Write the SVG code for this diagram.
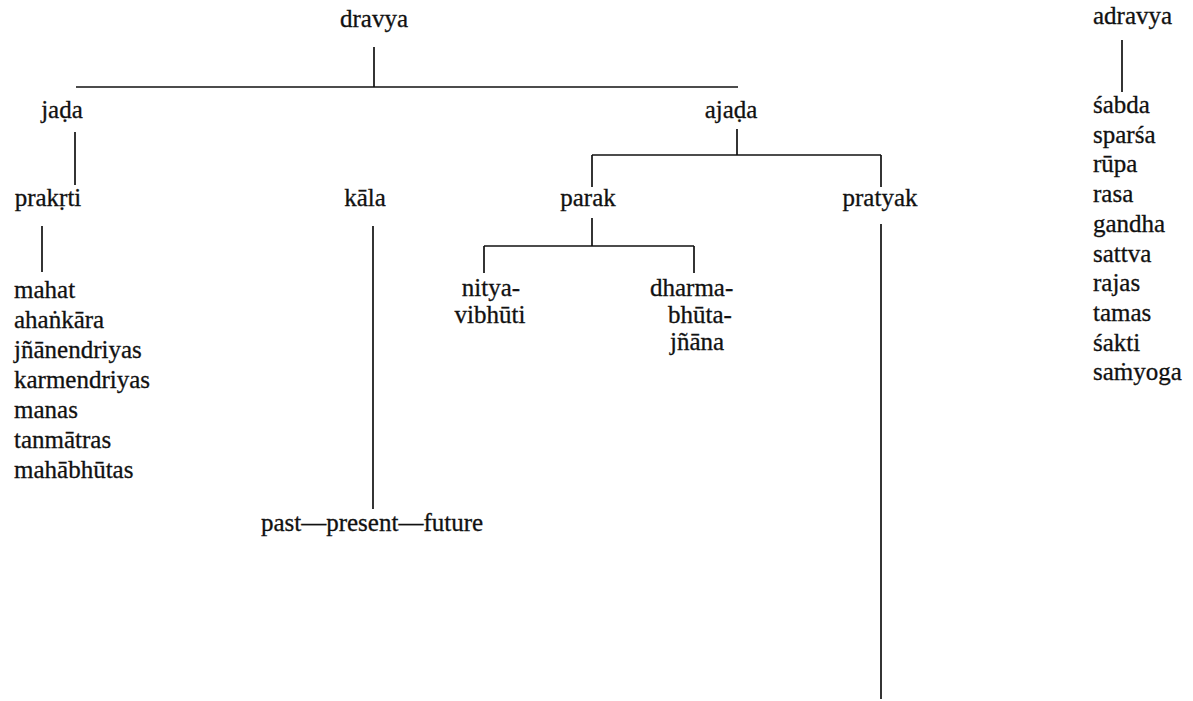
<svg xmlns="http://www.w3.org/2000/svg" width="1193" height="701" viewBox="0 0 1193 701">
<style>
text{font-family:"Liberation Serif","Times New Roman","DejaVu Serif",serif;font-size:25px;fill:#111;stroke:#111;stroke-width:0.3}
.c{text-anchor:middle}
line{stroke:#111;stroke-width:1.7}
</style>
<rect width="1193" height="701" fill="#fff"/>
<g id="connectors">
<line x1="374" y1="47" x2="374" y2="87"/>
<line x1="76" y1="87" x2="738" y2="87"/>
<line x1="75" y1="132" x2="75" y2="185"/>
<line x1="42" y1="226" x2="42" y2="272"/>
<line x1="373" y1="226" x2="373" y2="509"/>
<line x1="737" y1="129" x2="737" y2="155"/>
<line x1="592" y1="155" x2="881" y2="155"/>
<line x1="592" y1="155" x2="592" y2="187"/>
<line x1="881" y1="155" x2="881" y2="187"/>
<line x1="592" y1="218" x2="592" y2="246"/>
<line x1="484" y1="246" x2="694" y2="246"/>
<line x1="484" y1="246" x2="484" y2="273"/>
<line x1="694" y1="246" x2="694" y2="273"/>
<line x1="881" y1="224" x2="881" y2="699"/>
<line x1="1122" y1="40" x2="1122" y2="92"/>
</g>
<g id="dravya"><text class="c" x="374" y="27">dravya</text></g>
<g id="jada"><text class="c" x="62" y="118">jaḍa</text></g>
<g id="ajada"><text class="c" x="731" y="118">ajaḍa</text></g>
<g id="prakrti"><text class="c" x="48" y="206">prakṛti</text></g>
<g id="prakrti-list">
<text x="14" y="298">mahat</text>
<text x="14" y="328">ahaṅkāra</text>
<text x="14" y="358">jñānendriyas</text>
<text x="14" y="388">karmendriyas</text>
<text x="14" y="418">manas</text>
<text x="14" y="448">tanmātras</text>
<text x="14" y="478">mahābhūtas</text>
</g>
<g id="kala"><text class="c" x="365" y="206">kāla</text></g>
<g id="time"><text class="c" x="372" y="531">past—present—future</text></g>
<g id="parak"><text class="c" x="588" y="206">parak</text></g>
<g id="pratyak"><text class="c" x="880" y="206">pratyak</text></g>
<g id="nityavibhuti"><text class="c" x="491" y="296">nitya-</text><text class="c" x="490" y="323">vibhūti</text></g>
<g id="dharmabhutajnana"><text x="650" y="296">dharma-</text><text x="668" y="323">bhūta-</text><text x="670" y="350">jñāna</text></g>
<g id="adravya"><text x="1093" y="24">adravya</text></g>
<g id="adravya-list">
<text x="1093" y="113">śabda</text>
<text x="1093" y="142.7">sparśa</text>
<text x="1093" y="172.4">rūpa</text>
<text x="1093" y="202.1">rasa</text>
<text x="1093" y="231.8">gandha</text>
<text x="1093" y="261.5">sattva</text>
<text x="1093" y="291.2">rajas</text>
<text x="1093" y="320.9">tamas</text>
<text x="1093" y="350.6">śakti</text>
<text x="1093" y="380.3">saṁyoga</text>
</g>
</svg>
